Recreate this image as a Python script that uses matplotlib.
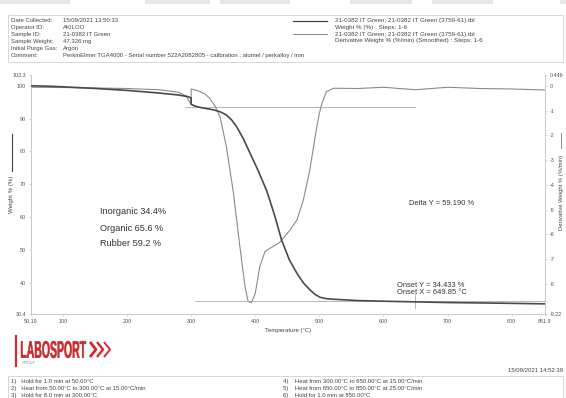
import numpy as np
import matplotlib
matplotlib.use("Agg")
import matplotlib.pyplot as plt
from matplotlib.patches import Rectangle, PathPatch
from matplotlib.lines import Line2D
from matplotlib.textpath import TextPath
from matplotlib.font_manager import FontProperties
from matplotlib.transforms import Affine2D

plt.rcParams['font.family'] = ['Liberation Sans', 'DejaVu Sans']

W, H = 566, 398

# weight % curve
temp_tg = [50.19, 75, 100, 150, 200, 250, 280, 295, 300, 300, 305, 314, 334, 345, 355, 363, 371,
           381, 392, 405, 418, 430, 441, 453, 465, 475, 485, 493, 501, 510, 522, 560, 600, 650,
           700, 782, 851.9]
weight = [100.0, 99.9, 99.7, 99.2, 98.6, 97.8, 97.2, 96.7, 96.3, 94.4, 93.9, 93.4, 92.7, 92.1, 91.1,
          89.6, 87.5, 84.0, 79.4, 73.9, 67.9, 60.6, 53.0, 47.0, 42.8, 39.9, 37.8, 36.4, 35.5, 35.1,
          34.9, 34.5, 34.3, 34.1, 33.9, 33.7, 33.5]

# derivative weight % curve (%/min)
temp_dtg = [50.19, 100, 200, 250, 280, 292, 300, 300, 305, 314, 322, 329, 337, 345, 355, 366, 376,
            384, 389, 394, 400, 407, 415, 423, 438, 454, 465, 475, 485, 490, 496, 500, 504, 511,
            522, 560, 600, 650, 700, 750, 800, 851.9]
dtg = [-0.05, -0.06, -0.1, -0.15, -0.25, -0.4, -0.75, -0.12, -0.15, -0.23, -0.33, -0.5, -0.8,
       -1.24, -2.46, -4.34, -6.5, -8.11, -8.72, -8.76, -8.38, -7.31, -6.7, -6.56, -6.33, -5.83,
       -5.42, -4.61, -3.40, -2.6, -1.64, -1.1, -0.7, -0.23, -0.09, -0.1, -0.05, -0.15, -0.05, -0.1,
       -0.12, -0.16]

xticks = [50.19, 100, 200, 300, 400, 500, 600, 700, 800, 851.9]
xticklabels = ['50.19', '100', '200', '300', '400', '500', '600', '700', '800', '851.9']
yticks = [30.4, 40, 50, 60, 70, 80, 90, 100, 103.3]
yticklabels = ['30.4', '40', '50', '60', '70', '80', '90', '100', '103.3']
y2ticks = [-9.22, -8, -7, -6, -5, -4, -3, -2, -1, 0, 0.446]
y2ticklabels = ['-9.22', '-8', '-7', '-6', '-5', '-4', '-3', '-2', '-1', '0', '0.446']

onset_x = 649.85
onset_y = 34.433
delta_y = 59.190

header_labels = ['Date Collected:', 'Operator ID:', 'Sample ID:', 'Sample Weight:',
                 'Initial Purge Gas:', 'Comment:']
header_values = ['15/09/2021 13:50:33', 'AKILOO', '21-0382 IT Green', '47.326 mg', 'Argon',
                 'PerkinElmer TGA4000 - Serial number 522A2082805 - calibration : alumel / perkalloy / iron']
legend_rows = ['21-0382 IT Green; 21-0382 IT Green (3759-61).tbl', 'Weight % (%) : Steps: 1-6',
               '21-0382 IT Green; 21-0382 IT Green (3759-61).tbl',
               'Derivative Weight % (%/min) (Smoothed) : Steps: 1-6']
steps_left = ['1)   Hold for 1.0 min at 50.00°C', '2)   Heat from 50.00°C to 300.00°C at 15.00°C/min',
              '3)   Hold for 8.0 min at 300.00°C']
steps_right = ['4)    Heat from 300.00°C to 650.00°C at 15.00°C/min',
               '5)    Heat from 650.00°C to 850.00°C at 25.00°C/min',
               '6)    Hold for 1.0 min at 850.00°C']

red = '#d8282b'
txt = '#444444'


def fx(x):
    return x / W


def fy(y):
    return 1 - y / H


fig = plt.figure(figsize=(W / 100, H / 100), dpi=100)

# grey strips at the very top
for x0, x1 in [(0, 70), (145, 210), (220, 290), (350, 412), (432, 493), (560, 566)]:
    fig.patches.append(Rectangle((fx(x0), fy(4)), fx(x1 - x0), 4 / H, transform=fig.transFigure,
                                 facecolor='#e6e6e6', edgecolor='none'))

# header box
fig.patches.append(Rectangle((fx(8), fy(62)), fx(555), 47 / H, transform=fig.transFigure,
                             facecolor='white', edgecolor='#d0d0d0', lw=0.6))
for i, (lab, val) in enumerate(zip(header_labels, header_values)):
    yy = 20.7 + 7.0 * i
    fig.text(fx(11), fy(yy), lab, fontsize=4.3, color=txt, va='center')
    fig.text(fx(63), fy(yy), val, fontsize=4.3, color=txt, va='center')
for i, row in enumerate(legend_rows):
    yy = 20.7 + 6.7 * i
    fig.text(fx(335), fy(yy), row, fontsize=4.5, color=txt, va='center')
fig.lines.append(Line2D([fx(293), fx(327)], [fy(20.7), fy(20.7)], transform=fig.transFigure,
                        color='#444', lw=0.9))
fig.lines.append(Line2D([fx(293), fx(327)], [fy(34.1), fy(34.1)], transform=fig.transFigure,
                        color='#888', lw=0.7))

ax = fig.add_axes([fx(31), fy(314), fx(545 - 31), (314 - 75) / H])
ax2 = ax.twinx()

ax2.plot(temp_dtg, dtg, color='#8a8a8a', lw=0.8)
ax.plot(temp_tg, weight, color='#4a4a4a', lw=1.2, zorder=3)

# analysis lines
ax.plot([290, onset_x], [onset_y + delta_y, onset_y + delta_y], color='#999', lw=0.5)
ax.plot([306, 851.9], [onset_y, onset_y], color='#999', lw=0.5)
ax.plot([onset_x, onset_x], [32.2, 36.4], color='#999', lw=0.5)

ax.set_xlim(50.19, 851.9)
ax.set_ylim(30.4, 103.3)
ax2.set_ylim(-9.22, 0.446)
ax.set_zorder(ax2.get_zorder() + 1)
ax.patch.set_visible(False)

ax.set_xticks(xticks)
ax.set_xticklabels(xticklabels)
ax.set_yticks(yticks)
ax.set_yticklabels(yticklabels)
ax2.set_yticks(y2ticks)
ax2.set_yticklabels(y2ticklabels)
for a in (ax, ax2):
    a.tick_params(labelsize=3.9, labelcolor='#555', length=1.5, width=0.4, color='#bbb', pad=2)
    for s in a.spines.values():
        s.set_color('#c8c8c8')
        s.set_linewidth(0.6)
    a.spines['top'].set_visible(False)

ax.text(0.5, -0.06, 'Temperature (°C)', transform=ax.transAxes, ha='center', va='top',
        fontsize=4.3, color=txt)

# y axis labels with line samples
fig.text(fx(12), fy(194), 'Weight % (%)', rotation=90, fontsize=4.4, color=txt,
         ha='center', va='center')
fig.lines.append(Line2D([fx(12), fx(12)], [fy(171), fy(134)], transform=fig.transFigure,
                        color='#444', lw=0.8))
fig.text(fx(561), fy(192), 'Derivative Weight % (%/min)', rotation=90, fontsize=4.2, color=txt,
         ha='center', va='center')
fig.lines.append(Line2D([fx(561), fx(561)], [fy(148), fy(133)], transform=fig.transFigure,
                        color='#888', lw=0.7))

# annotations
fig.text(fx(100), fy(212), 'Inorganic 34.4%', fontsize=6.6, color='#333', va='center')
fig.text(fx(100), fy(228), 'Organic 65.6 %', fontsize=6.6, color='#333', va='center')
fig.text(fx(100), fy(243.5), 'Rubber 59.2 %', fontsize=6.6, color='#333', va='center')
fig.text(fx(409), fy(203.5), 'Delta Y = %.3f %%' % delta_y, fontsize=5.4, color='#333', va='center')
fig.text(fx(397), fy(285.5), 'Onset Y = %.3f %%' % onset_y, fontsize=5.4, color='#333', va='center')
fig.text(fx(397), fy(292), 'Onset X = %.2f °C' % onset_x, fontsize=5.4, color='#333', va='center')

# logo
fig.lines.append(Line2D([fx(16), fx(16)], [fy(336), fy(366)], transform=fig.transFigure,
                        color=red, lw=1.6))
tp = TextPath((0, 0), 'LABOSPORT', size=1, prop=FontProperties(family='Liberation Sans', weight='bold'))
ext = tp.get_extents()
x0, x1, ytop, ybot = 21, 86, 341, 358
tr = (Affine2D().translate(-ext.x0, -ext.y0)
      .scale((x1 - x0) / ext.width / W, (ybot - ytop) / ext.height / H)
      .translate(fx(x0), fy(ybot)) + fig.transFigure)
fig.patches.append(PathPatch(tp, transform=tr, facecolor=red, edgecolor='#a01818', lw=0.3))
for i, cx in enumerate([90, 97, 104]):
    fig.lines.append(Line2D([fx(cx), fx(cx + 6), fx(cx)], [fy(342), fy(349.5), fy(357)],
                            transform=fig.transFigure, color=red, lw=2.0 - 0.3 * i,
                            solid_capstyle='butt'))
fig.text(fx(22), fy(363), 'GROUP', fontsize=2.8, color='#888', va='center')

# footer
fig.text(fx(563), fy(371), '15/09/2021 14:52:39', fontsize=4.3, color=txt, ha='right',
         va='center')
fig.patches.append(Rectangle((fx(8), fy(400)), fx(555), 24 / H, transform=fig.transFigure,
                             facecolor='white', edgecolor='#d0d0d0', lw=0.6))
for i, (l, r) in enumerate(zip(steps_left, steps_right)):
    yy = 381.5 + 7 * i
    fig.text(fx(11), fy(yy), l, fontsize=4.3, color=txt, va='center')
    fig.text(fx(283), fy(yy), r, fontsize=4.3, color=txt, va='center')

fig.savefig('out.png', dpi=100)
